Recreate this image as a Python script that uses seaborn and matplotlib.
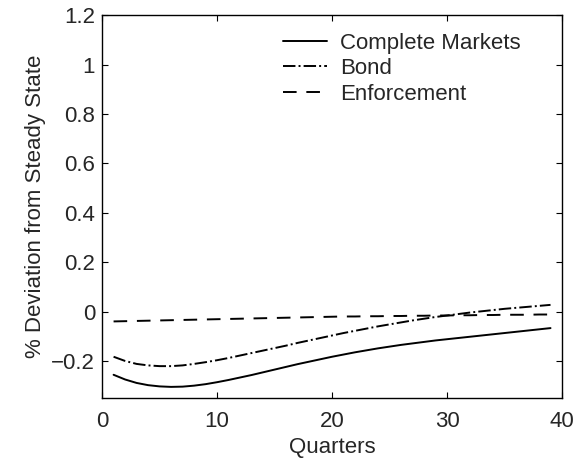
import pandas as pd
import seaborn as sns
import matplotlib.pyplot as plt

# Values (quarters 1..39)
quarters = list(range(1, 40))
complete_markets = [
    -0.256, -0.275, -0.289, -0.298, -0.303, -0.305, -0.304, -0.300, -0.294, -0.286,
    -0.277, -0.267, -0.257, -0.246, -0.235, -0.224, -0.213, -0.203, -0.193, -0.183,
    -0.174, -0.165, -0.157, -0.149, -0.142, -0.135, -0.129, -0.123, -0.117, -0.112,
    -0.107, -0.102, -0.097, -0.092, -0.087, -0.082, -0.077, -0.072, -0.067,
]
bond = [
    -0.183, -0.200, -0.212, -0.218, -0.221, -0.221, -0.218, -0.212, -0.205, -0.197,
    -0.188, -0.178, -0.168, -0.158, -0.148, -0.138, -0.127, -0.117, -0.107, -0.097,
    -0.087, -0.078, -0.069, -0.060, -0.052, -0.044, -0.036, -0.029, -0.022, -0.016,
    -0.010, -0.004, 0.001, 0.006, 0.011, 0.015, 0.019, 0.023, 0.027,
]
enforcement = [
    -0.040, -0.039, -0.038, -0.037, -0.036, -0.035, -0.034, -0.033, -0.032, -0.031,
    -0.030, -0.029, -0.028, -0.027, -0.026, -0.025, -0.024, -0.023, -0.022, -0.021,
    -0.020, -0.020, -0.019, -0.019, -0.018, -0.018, -0.017, -0.017, -0.016, -0.016,
    -0.015, -0.015, -0.014, -0.014, -0.013, -0.013, -0.013, -0.012, -0.012,
]
series_names = ["Complete Markets", "Bond", "Enforcement"]
x_ticks = [0, 10, 20, 30, 40]
y_ticks = [-0.2, 0, 0.2, 0.4, 0.6, 0.8, 1, 1.2]
y_tick_labels = ["\u22120.2", "0", "0.2", "0.4", "0.6", "0.8", "1", "1.2"]

df = pd.DataFrame({
    "Quarters": quarters * 3,
    "value": complete_markets + bond + enforcement,
    "series": [series_names[0]] * 39 + [series_names[1]] * 39 + [series_names[2]] * 39,
})

sns.set_style("ticks")
plt.rcParams["font.family"] = ["Liberation Sans", "DejaVu Sans"]
fs = 16

fig = plt.figure(figsize=(5.8, 4.58), dpi=100)
ax = fig.add_axes([0.176, 0.131, 0.793, 0.836])

styles = {"Complete Markets": "-", "Bond": "-.", "Enforcement": (0, (7, 5))}
for name in series_names:
    sub = df[df["series"] == name]
    sns.lineplot(data=sub, x="Quarters", y="value", ax=ax, color="black",
                 linestyle=styles[name], linewidth=1.4, label=name)

ax.set_xlim(0, 40)
ax.set_ylim(-0.35, 1.2)
ax.set_xticks(x_ticks)
ax.set_yticks(y_ticks)
ax.set_yticklabels(y_tick_labels)
ax.tick_params(direction="in", top=True, right=True, labelsize=fs, length=4,
               color="black", pad=5)
ax.tick_params(axis="x", pad=9)
for s in ax.spines.values():
    s.set_color("black")
    s.set_linewidth(1.0)
ax.set_xlabel("Quarters", fontsize=fs, labelpad=4)
ax.set_ylabel("% Deviation from Steady State", fontsize=fs, labelpad=4)

ax.legend(loc="upper right", frameon=False, fontsize=fs, handlelength=2.0,
          handletextpad=0.6, labelspacing=0.2, borderaxespad=0.0,
          bbox_to_anchor=(0.93, 0.977))

fig.savefig("out.png", dpi=100)
